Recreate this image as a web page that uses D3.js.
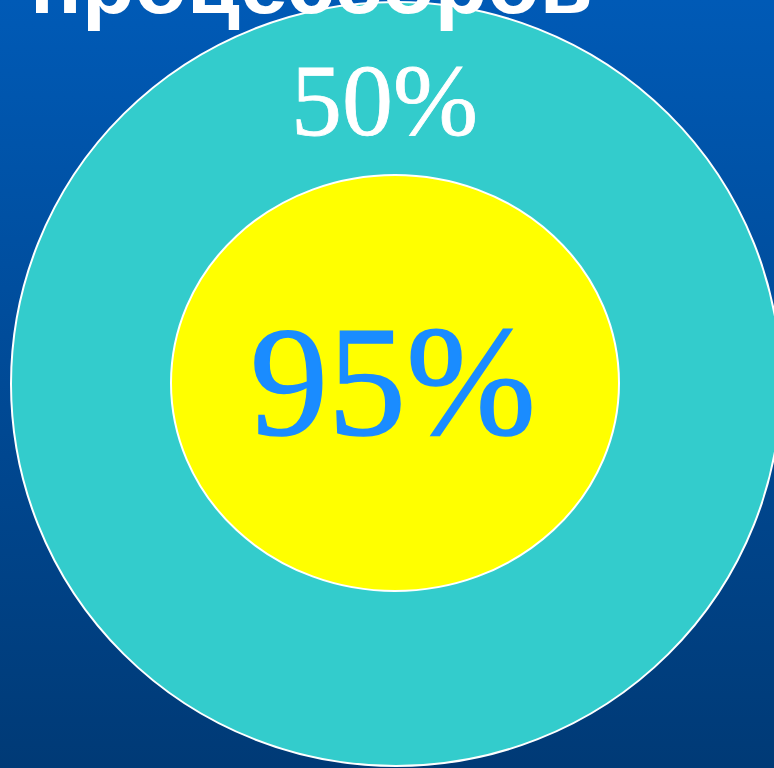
<!DOCTYPE html>
<html>
<head>
<meta charset="utf-8">
<script src="https://cdn.jsdelivr.net/npm/d3@7"></script>
<style>
  html, body { margin: 0; padding: 0; background: #003a78; }
  svg { display: block; }
</style>
</head>
<body>
<script>
// Share figures shown in the two nested rings (outer, inner)
const ringLabels = ["50%", "95%"];
const ringValues = [50, 95];
const ringFill = ["#33cccc", "#ffff00"];
const ringText = ["#ffffff", "#1a8cff"];
const titleText = "процессоров";

const W = 774, H = 768;
const svg = d3.select("body").append("svg")
  .attr("width", W).attr("height", H);

// background gradient
const defs = svg.append("defs");
const grad = defs.append("linearGradient")
  .attr("id", "bg").attr("x1", 0).attr("y1", 0).attr("x2", 0).attr("y2", 1);
grad.append("stop").attr("offset", "0%").attr("stop-color", "#005ab6");
grad.append("stop").attr("offset", "100%").attr("stop-color", "#003a76");
svg.append("rect").attr("width", W).attr("height", H).attr("fill", "url(#bg)");

// ring geometry: outer then inner
const rings = [
  { cx: 396, cy: 384, rx: 385, ry: 382, ty: 135, tx: 384.5, fs: 102, sw: 0.8 },
  { cx: 395, cy: 383, rx: 224, ry: 208, ty: 434, tx: 393, fs: 156, sw: 1.6 }
];

const data = ringValues.map((v, i) => ({
  value: v, label: ringLabels[i], fill: ringFill[i], color: ringText[i], ...rings[i]
}));

svg.selectAll("ellipse.ring")
  .data(data)
  .join("ellipse")
  .attr("class", "ring")
  .attr("cx", d => d.cx).attr("cy", d => d.cy)
  .attr("rx", d => d.rx).attr("ry", d => d.ry)
  .attr("fill", d => d.fill)
  .attr("stroke", "#ffffff")
  .attr("stroke-width", 2);

svg.selectAll("text.val")
  .data(data)
  .join("text")
  .attr("class", "val")
  .attr("x", d => d.tx).attr("y", d => d.ty)
  .attr("text-anchor", "middle")
  .attr("font-family", "'Liberation Serif', 'Times New Roman', serif")
  .attr("font-size", d => d.fs)
  .attr("fill", d => d.color)
  .attr("stroke", d => d.color)
  .attr("stroke-width", d => d.sw)
  .text(d => d.label);

// heading, partly above the top edge
svg.append("text")
  .attr("x", 30).attr("y", 13)
  .attr("font-family", "'Liberation Sans', Arial, sans-serif")
  .attr("font-weight", "bold")
  .attr("font-size", 86)
  .attr("fill", "#ffffff")
  .text(titleText);
</script>
</body>
</html>
